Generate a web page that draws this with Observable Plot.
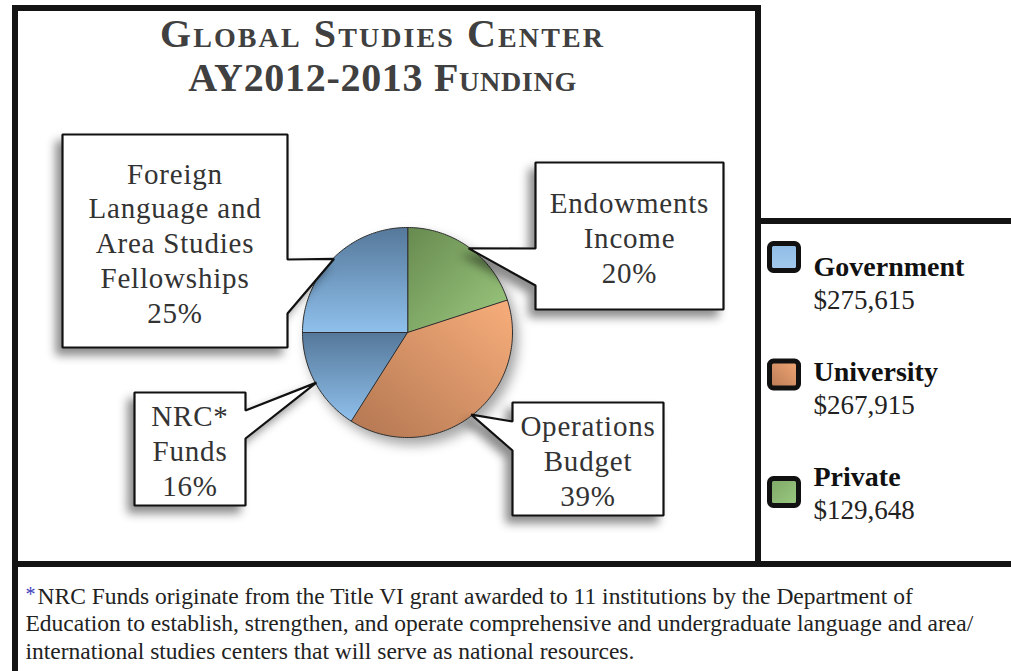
<!DOCTYPE html>
<html><head><meta charset="utf-8">
<script src="https://cdn.jsdelivr.net/npm/d3@7"></script>
<script src="https://cdn.jsdelivr.net/npm/@observablehq/plot@0.6"></script>
<style>
html,body{margin:0;padding:0;background:#fff;}
#page{position:relative;width:1011px;height:671px;overflow:hidden;background:#fff;}
.bar{position:absolute;background:#141414;}
#chart{position:absolute;left:0;top:0;}
#chart text{font-family:"Liberation Serif","Times New Roman",serif;}
</style></head><body>
<div id="page">
 <div class="bar" style="left:12px;top:5px;width:749px;height:6px"></div>
 <div class="bar" style="left:12px;top:5px;width:6px;height:666px"></div>
 <div class="bar" style="left:755px;top:5px;width:6px;height:562px"></div>
 <div class="bar" style="left:755px;top:218px;width:256px;height:6px"></div>
 <div class="bar" style="left:12px;top:561px;width:999px;height:6px"></div>
 <div id="chart"></div>
</div>
<script>
// ---- data ----
const categories = ["Endowments Income", "Operations Budget", "NRC* Funds", "Foreign Language and Area Studies Fellowships"];
const categoryLines = [["Endowments", "Income"], ["Operations", "Budget"], ["NRC*", "Funds"], ["Foreign", "Language and", "Area Studies", "Fellowships"]];
const shares = [20, 39, 16, 25];
const categorySource = ["Private", "University", "Government", "Government"];
const sources = ["Government", "University", "Private"];
const amounts = [275615, 267915, 129648];
const titleLines = ["Global Studies Center", "AY2012-2013 Funding"];
const footnoteLines = [
  "NRC Funds originate from the Title VI grant awarded to 11 institutions by the Department of",
  "Education to establish, strengthen, and operate comprehensive and undergraduate language and area/",
  "international studies centers that will serve as national resources."
];

// ---- layout / style ----
const W = 1011, H = 671;
const cx = 407, cy = 332, R = 105;
const serif = "Liberation Serif, Times New Roman, serif";
const sliceFill = {Government: "url(#gBlue)", University: "url(#gOrange)", Private: "url(#gGreen)"};
const swatchFill = {Government: "url(#sBlue)", University: "url(#sOrange)", Private: "url(#sGreen)"};
const titleSpacing = ["2.1px", "0.7px"];
const boxes = [
  {l: 535, t: 162, r: 723, b: 309, side: "left", p1: 248, p2: 285},
  {l: 512, t: 402, r: 663, b: 515, side: "left", p1: 421, p2: 450},
  {l: 134, t: 392, r: 245, b: 505, side: "right", p1: 410, p2: 438},
  {l: 62, t: 134, r: 287, b: 347, side: "right", p1: 259, p2: 313}
];

const arcs = d3.pie().sort(null).value(d => d)(shares);
const pt = (a, rr) => [cx + rr * Math.sin(a), cy - rr * Math.cos(a)];

const sliceMarks = arcs.map((a, i) => {
  const pts = [{x: cx, y: cy}];
  const n = Math.max(8, Math.ceil((a.endAngle - a.startAngle) / 0.02));
  for (let k = 0; k <= n; k++) {
    const ang = a.startAngle + (a.endAngle - a.startAngle) * k / n;
    const [x, y] = pt(ang, R);
    pts.push({x, y});
  }
  return Plot.line(pts, {x: "x", y: "y", curve: "linear-closed", fill: sliceFill[categorySource[i]], stroke: "#2e2e2e", strokeWidth: 1});
});

const calloutRows = [];
arcs.forEach((a, i) => {
  const b = boxes[i];
  const mid = (a.startAngle + a.endAngle) / 2;
  const [tx, ty] = pt(mid, R - 1);
  let poly;
  if (b.side === "left") {
    poly = [[b.l, b.t], [b.r, b.t], [b.r, b.b], [b.l, b.b], [b.l, b.p2], [tx, ty], [b.l, b.p1]];
  } else {
    poly = [[b.l, b.t], [b.r, b.t], [b.r, b.p1], [tx, ty], [b.r, b.p2], [b.r, b.b], [b.l, b.b]];
  }
  poly.forEach(([x, y]) => calloutRows.push({box: i, x, y}));
});

const labelRows = arcs.map((a, i) => ({
  x: (boxes[i].l + boxes[i].r) / 2,
  y: (boxes[i].t + boxes[i].b) / 2 + 1,
  text: [...categoryLines[i], shares[i] + "%"].join("\n")
}));

const legendRows = sources.map((s, i) => ({
  name: s, amount: d3.format("$,")(amounts[i]),
  sx1: 769.5, sx2: 798.5, sy1: 243.5 + i * 117.5, sy2: 270.5 + i * 117.5,
  tx: 813, ty: 275 + i * 105
}));

const chart = Plot.plot({
  width: W, height: H, margin: 0,
  style: {background: "transparent", overflow: "visible"},
  x: {domain: [0, W], range: [0, W], axis: null},
  y: {domain: [0, H], range: [0, H], axis: null},
  marks: [
    ...sliceMarks,
    Plot.line(calloutRows, {x: "x", y: "y", z: "box", curve: "linear-closed", fill: "white", stroke: "#111", strokeWidth: 2.2, strokeLinejoin: "miter"}),
    Plot.text(labelRows, {x: "x", y: "y", text: "text", fontSize: 29, lineHeight: 1.2, fill: "#333", fontFamily: serif}),
    Plot.text(titleLines, {x: 382, y: (d, i) => 46 + i * 44, text: d => d, lineAnchor: "bottom", fontSize: 40, fontWeight: "bold", fontVariant: "small-caps", fill: "#404040", fontFamily: serif}),
    ...legendRows.map(r => Plot.rect([r], {x1: "sx1", x2: "sx2", y1: "sy1", y2: "sy2", rx: 4, fill: swatchFill[r.name], stroke: "#111", strokeWidth: 5})),
    Plot.text(legendRows, {x: "tx", y: "ty", text: "name", textAnchor: "start", lineAnchor: "bottom", fontSize: 28, fontWeight: "bold", fill: "#111", fontFamily: serif}),
    Plot.text(legendRows, {x: "tx", y: d => d.ty + 33, text: "amount", textAnchor: "start", lineAnchor: "bottom", fontSize: 27, fill: "#222", fontFamily: serif}),
    Plot.text(["*"], {x: 25, y: 600, text: d => d, textAnchor: "start", lineAnchor: "bottom", fontSize: 20, fill: "#3b3bbb", fontFamily: serif}),
    Plot.text(footnoteLines, {x: (d, i) => i === 0 ? 37 : 25, y: (d, i) => 603 + i * 27.5, text: d => d, textAnchor: "start", lineAnchor: "bottom", fontSize: 23.5, fill: "#222", fontFamily: serif})
  ]
});

const defs = `
  <linearGradient id="gBlue" x1="0" y1="0" x2="0" y2="1">
   <stop offset="0" stop-color="#55789a"/><stop offset="1" stop-color="#8fc0ec"/>
  </linearGradient>
  <linearGradient id="gGreen" x1="0" y1="0" x2="1" y2="1">
   <stop offset="0" stop-color="#678a4f"/><stop offset="1" stop-color="#9dca80"/>
  </linearGradient>
  <linearGradient id="gOrange" x1="1" y1="0" x2="0" y2="1">
   <stop offset="0" stop-color="#f8ae7b"/><stop offset="1" stop-color="#b27651"/>
  </linearGradient>
  <linearGradient id="sBlue" x1="0" y1="0" x2="0" y2="1">
   <stop offset="0" stop-color="#8fbbe6"/><stop offset="1" stop-color="#a4cbee"/>
  </linearGradient>
  <linearGradient id="sOrange" x1="1" y1="0" x2="0" y2="1">
   <stop offset="0" stop-color="#f2a775"/><stop offset="1" stop-color="#b87a55"/>
  </linearGradient>
  <linearGradient id="sGreen" x1="0" y1="0" x2="1" y2="1">
   <stop offset="0" stop-color="#7da766"/><stop offset="1" stop-color="#9ccb82"/>
  </linearGradient>`;
const ns = "http://www.w3.org/2000/svg";
const defsEl = document.createElementNS(ns, "defs");
defsEl.innerHTML = defs;
chart.insertBefore(defsEl, chart.firstChild);
const lineGroups = Array.from(chart.querySelectorAll('g[aria-label="line"]'));
const textGroups = Array.from(chart.querySelectorAll('g[aria-label="text"]'));
const pieWrap = document.createElementNS(ns, "g");
pieWrap.setAttribute("style", "filter: drop-shadow(5px 7px 6px rgba(0,0,0,0.35))");
lineGroups[0].parentNode.insertBefore(pieWrap, lineGroups[0]);
lineGroups.slice(0, 4).forEach(g => pieWrap.appendChild(g));
lineGroups[4].setAttribute("style", "filter: drop-shadow(-6px 7px 5px rgba(0,0,0,0.45))");
textGroups[0].querySelectorAll("text").forEach(t => t.style.letterSpacing = "0.8px");
textGroups[1].querySelectorAll("text").forEach((t, i) => t.style.letterSpacing = titleSpacing[i]);
document.getElementById("chart").appendChild(chart);
</script>
</body></html>
